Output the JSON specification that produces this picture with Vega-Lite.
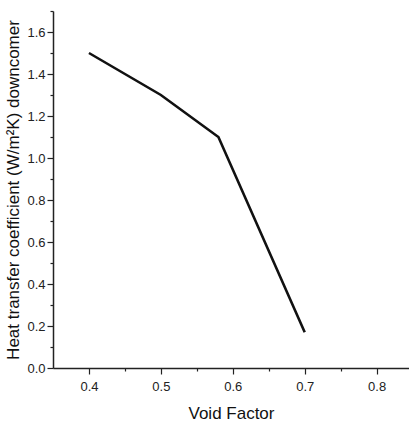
{
  "$schema": "https://vega.github.io/schema/vega-lite/v6.json",
  "autosize": {"type": "none"},
  "padding": {"left": 53, "top": 11, "right": 0, "bottom": 59},
  "width": 356,
  "height": 357,
  "background": "white",
  "config": {
    "view": {"stroke": null},
    "font": "Liberation Sans",
    "axis": {
      "grid": false,
      "domainColor": "#222",
      "domainWidth": 1.5,
      "tickColor": "#222",
      "tickWidth": 1.2,
      "labelColor": "#222",
      "titleColor": "#111",
      "labelFontSize": 13,
      "titleFontSize": 17,
      "titleFontWeight": "normal",
      "labelFont": "Liberation Sans",
      "titleFont": "Liberation Sans"
    }
  },
  "data": {
    "values": [
      {"void": 0.4, "h": 1.5},
      {"void": 0.5, "h": 1.3},
      {"void": 0.58, "h": 1.1},
      {"void": 0.7, "h": 0.17}
    ]
  },
  "mark": {"type": "line", "color": "#111", "strokeWidth": 2.6},
  "encoding": {
    "x": {
      "field": "void",
      "type": "quantitative",
      "scale": {"domain": [0.35, 0.845], "nice": false, "zero": false},
      "axis": {
        "title": "Void Factor",
        "values": [0.4, 0.45, 0.5, 0.55, 0.6, 0.65, 0.7, 0.75, 0.8],
        "labelExpr": "round(datum.value*100)%10==0 ? format(datum.value,'.1f') : ''",
        "tickSize": {"condition": {"test": "round(datum.value*100)%10==0", "value": 6}, "value": 3},
        "labelPadding": 6,
        "titlePadding": 12
      }
    },
    "y": {
      "field": "h",
      "type": "quantitative",
      "scale": {"domain": [0, 1.7], "nice": false},
      "axis": {
        "title": "Heat transfer coefficient (W/m²K) downcomer",
        "values": [0, 0.1, 0.2, 0.3, 0.4, 0.5, 0.6, 0.7, 0.8, 0.9, 1.0, 1.1, 1.2, 1.3, 1.4, 1.5, 1.6, 1.7],
        "labelExpr": "round(datum.value*10)%2==0 && datum.value < 1.65 ? format(datum.value,'.1f') : ''",
        "tickSize": {"condition": {"test": "round(datum.value*10)%2==0", "value": 6}, "value": 3},
        "labelPadding": 2,
        "titlePadding": 4
      }
    }
  }
}
